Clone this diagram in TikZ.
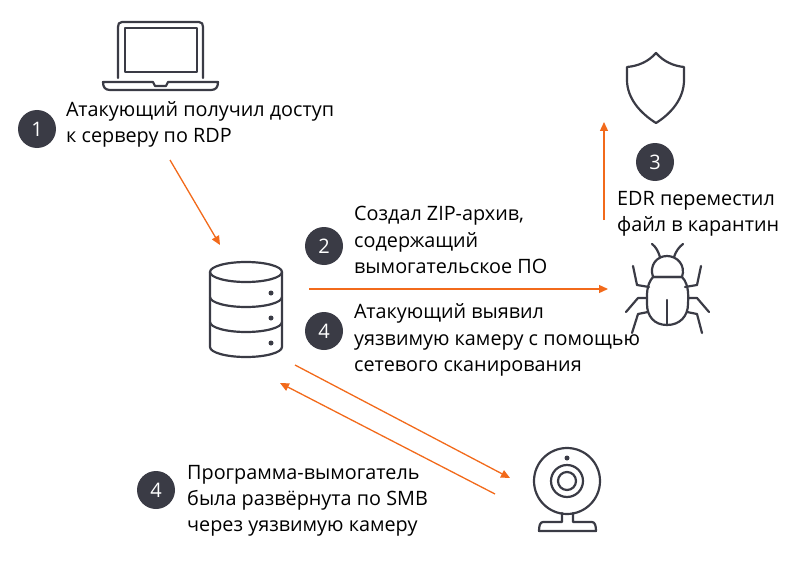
\documentclass[tikz,border=0pt]{standalone}
\usepackage{fontspec}
\setmainfont{Open Sans}
\usetikzlibrary{arrows.meta}
\definecolor{iconink}{HTML}{3A3B45}
\definecolor{arrowink}{HTML}{F26A1B}
\tikzset{
  icon/.style = {draw = iconink, line width = 2.2pt, line join = round, line cap = round},
  flow/.style = {draw = arrowink, line width = 1.3pt, -{Triangle[length = 9pt, width = 8pt]}},
  badge/.style = {circle, fill = iconink, text = white, minimum size = 38pt, inner sep = 0pt, font = \fontsize{20}{24}\selectfont},
  caption/.style = {anchor = west, align = left, inner sep = 0pt, text = black, font = \fontsize{19.8}{26.3}\selectfont}
}
\begin{document}
\begin{tikzpicture}[x = 1pt, y = -1pt]
\useasboundingbox (0, 0) rectangle (800, 567);
\draw[icon] (118, 78) -- (118, 27) .. controls (118, 24) and (119, 22) .. (122, 22) -- (199, 22) .. controls (202, 22) and (203, 24) .. (203, 27) -- (203, 78);
\draw[icon] (125, 28) rectangle (197, 72);
\draw[icon] (103, 82) -- (153, 82) -- (155, 86) -- (166, 86) -- (168, 82) -- (218, 82) .. controls (218, 87) and (216, 90) .. (211, 90) -- (110, 90) .. controls (105, 90) and (103, 87) .. (103, 82) -- cycle;
\draw[icon] (656, 53) .. controls (648, 62) and (638, 66) .. (627, 67) -- (627, 80) .. controls (627, 98) and (640, 113) .. (656, 123) .. controls (672, 113) and (684, 98) .. (684, 80) -- (684, 67) .. controls (674, 66) and (664, 62) .. (656, 53) -- cycle;
\draw[icon] (653, 277) .. controls (649, 265) and (657, 256) .. (667, 256) .. controls (677, 256) and (686, 265) .. (682, 277) -- cycle;
\draw[icon] (653, 277) -- (682, 277) .. controls (690, 285) and (688, 300) .. (688, 304) .. controls (688, 316) and (680, 325) .. (667, 325) .. controls (654, 325) and (647, 316) .. (647, 304) .. controls (647, 295) and (646, 285) .. (653, 277);
\draw[icon] (667, 300) -- (667, 325);
\draw[icon] (660, 257) .. controls (658, 251) and (656, 247) .. (652, 244);
\draw[icon] (674, 257) .. controls (676, 251) and (679, 247) .. (683, 244);
\draw[icon] (649, 287) -- (637, 285) -- (633, 266);
\draw[icon] (685, 287) -- (697, 285) -- (701, 266);
\draw[icon] (647, 298) -- (638, 298) -- (626, 312);
\draw[icon] (688, 298) -- (697, 298) -- (709, 312);
\draw[icon] (648, 312) -- (638, 314) -- (632, 333);
\draw[icon] (687, 312) -- (697, 314) -- (702, 333);
\draw[icon] (246, 272) ellipse [x radius = 36, y radius = 10];
\draw[icon] (210, 272) -- (210, 347) arc [start angle = 180, end angle = 0, x radius = 36, y radius = 10] -- (282, 272);
\draw[icon] (210, 297) arc [start angle = 180, end angle = 0, x radius = 36, y radius = 10];
\draw[icon] (210, 322) arc [start angle = 180, end angle = 0, x radius = 36, y radius = 10];
\foreach \doty in {293, 318, 343} \fill[iconink] (271, \doty) circle (2.5);
\draw[icon] (567, 481) circle (33);
\draw[icon] (567, 481) circle (16);
\draw[icon] (567, 481) circle (9);
\fill[iconink] (567, 458) circle (2.5);
\draw[icon] (562, 513) -- (562, 522) -- (543, 522) .. controls (540, 522) and (539, 526) .. (539, 531) -- (596, 531) .. controls (596, 526) and (595, 522) .. (592, 522) -- (573, 522) -- (573, 513);
\coordinate (laptop out) at (170, 160);
\coordinate (server in) at (220, 245);
\coordinate (server out) at (309, 289);
\coordinate (bug in) at (608, 289);
\coordinate (bug out) at (604, 220);
\coordinate (shield in) at (604, 122);
\coordinate (scan start) at (295, 365);
\coordinate (camera in) at (510, 478);
\coordinate (camera out) at (495, 494);
\coordinate (scan end) at (280, 383);
\draw[flow] (laptop out) -- (server in);
\draw[flow] (server out) -- (bug in);
\draw[flow] (bug out) -- (shield in);
\draw[flow] (scan start) -- (camera in);
\draw[flow] (camera out) -- (scan end);
\node[badge] (step one) at (37, 129) {1};
\node[badge] (step two) at (324, 246) {2};
\node[badge] (step three) at (655, 162) {3};
\node[badge] (step scan) at (324, 331) {4};
\node[badge] (step smb) at (156, 490) {4};
\node[caption] (text one) at (66, 124.5) {Атакующий получил доступ\\к серверу по RDP};
\node[caption] (text two) at (354, 240) {Создал ZIP-архив,\\содержащий\\вымогательское ПО};
\node[caption] (text three) at (617, 214) {EDR переместил\\файл в карантин};
\node[caption] (text scan) at (354, 340) {Атакующий выявил\\уязвимую камеру с помощью\\сетевого сканирования};
\node[caption] (text smb) at (187, 501) {Программа-вымогатель\\была развёрнута по SMB\\через уязвимую камеру};
\end{tikzpicture}
\end{document}
